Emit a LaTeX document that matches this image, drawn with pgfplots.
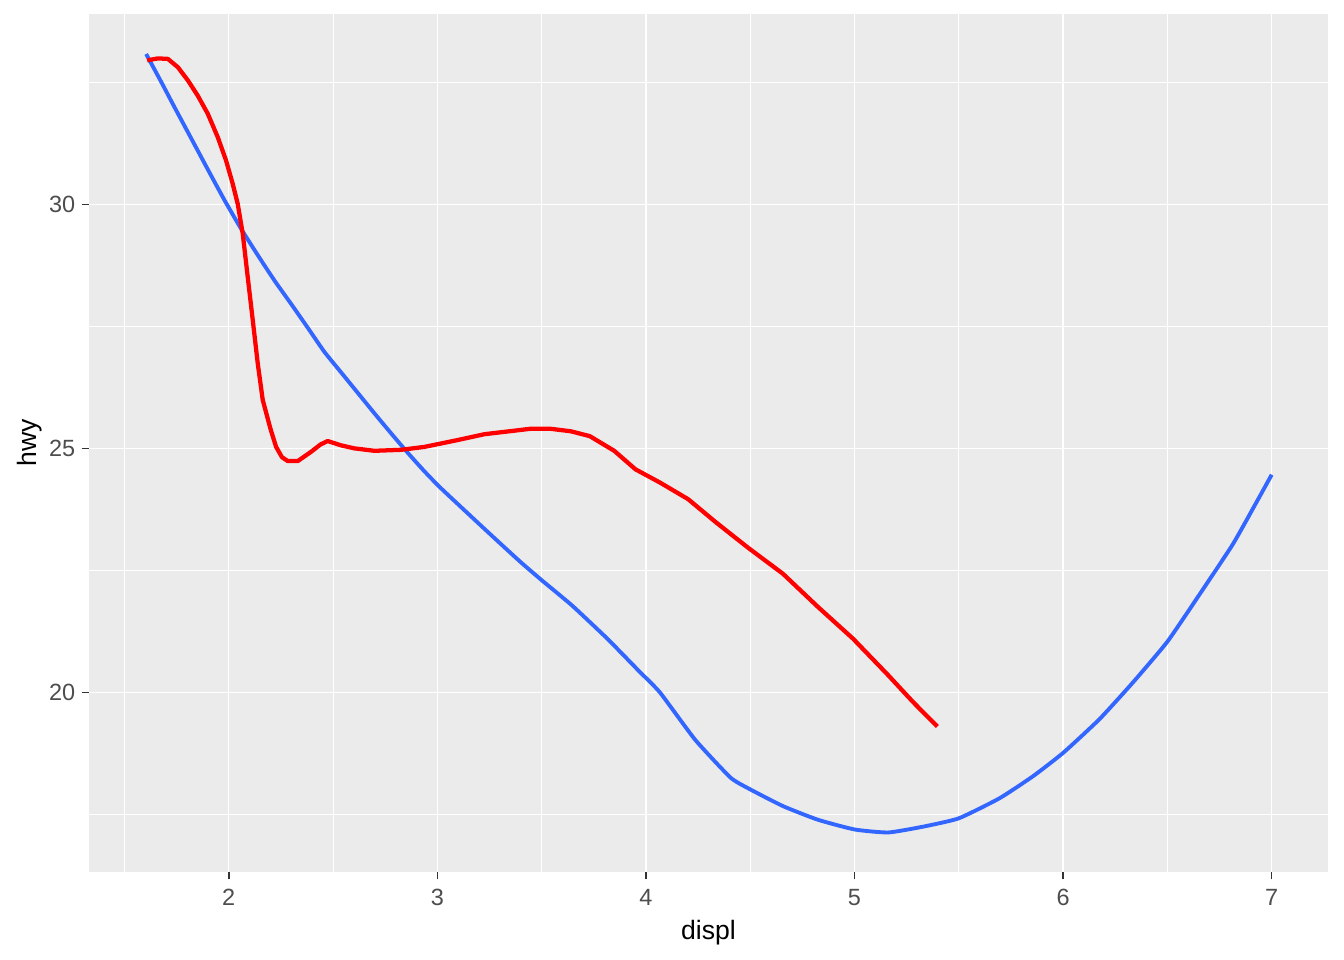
\documentclass[border=0pt]{standalone}
\usepackage{fontspec}
\setmainfont{Liberation Sans}
\usepackage{pgfplots}
\pgfplotsset{compat=1.18}
\definecolor{ggbg}{HTML}{EBEBEB}
\definecolor{ggblue}{HTML}{3366FF}
\definecolor{ggred}{HTML}{FF0000}
\definecolor{ticktext}{HTML}{4D4D4D}
\definecolor{tickcol}{HTML}{333333}
\begin{document}
\begin{tikzpicture}
\begin{axis}[
  scale only axis,
  width=464.625bp, height=321.75bp,
  xmin=1.33, xmax=7.27, ymin=16.32, ymax=33.90,
  axis background/.style={fill=ggbg},
  axis line style={draw=none},
  tick pos=left,
  tick align=outside,
  major tick length=2.75bp,
  minor tick length=0pt,
  every tick/.style={tickcol, line width=0.6bp},
  xtick={2,3,4,5,6,7},
  ytick={20,25,30},
  minor xtick={1.5,2.5,3.5,4.5,5.5,6.5},
  minor ytick={17.5,22.5,27.5,32.5},
  grid=both,
  major grid style={white, line width=0.55bp},
  minor grid style={white, line width=0.28bp},
  /pgf/number format/assume math mode=true,
  ticklabel style={font=\fontsize{8.8bp}{10bp}\selectfont, text=ticktext},
  yticklabel style={anchor=east, inner sep=0pt, xshift=-2.2bp},
  xticklabel style={anchor=north, inner sep=0pt, yshift=-3.6bp},
  label style={font=\fontsize{11bp}{13bp}\selectfont, text=black},
  every axis x label/.style={at={(axis description cs:0.5,-0.0781)}, anchor=base},
  every axis y label/.style={at={(axis description cs:-0.0476,0.5)}, rotate=90, anchor=center},
  xlabel={displ},
  ylabel={hwy},
  clip=false,
]
\coordinate (sw) at (rel axis cs:0,0);
\coordinate (ne) at (rel axis cs:1,1);
% blue smooth (loess overall)
\addplot[ggblue, line width=1.45bp, line join=round, smooth, tension=0.3] coordinates {
(1.604,33.08) (1.676,32.51) (1.740,31.99) (1.819,31.36) (1.899,30.72)
(1.979,30.09) (2.059,29.50) (2.139,28.96) (2.219,28.44) (2.299,27.96)
(2.379,27.47) (2.458,26.98) (2.538,26.56) (2.618,26.14) (2.698,25.72)
(2.778,25.31) (2.858,24.91) (2.938,24.53) (3.018,24.18) (3.226,23.35)
(3.394,22.69) (3.500,22.30) (3.646,21.78) (3.815,21.10) (3.966,20.44)
(4.067,20.00) (4.236,19.03) (4.404,18.26) (4.488,18.04) (4.657,17.67)
(4.825,17.39) (5.002,17.19) (5.162,17.13) (5.330,17.25) (5.500,17.42)
(5.695,17.83) (5.855,18.28) (6.000,18.76) (6.174,19.45) (6.334,20.20)
(6.500,21.04) (6.653,22.00) (6.813,23.03) (6.925,23.88) (7.000,24.46)
};
% red smooth (subset)
\addplot[ggred, line width=1.6bp, line join=round] coordinates {
(1.609,32.95) (1.660,32.99) (1.708,32.98) (1.756,32.81) (1.804,32.54)
(1.851,32.23) (1.899,31.86) (1.947,31.38) (1.987,30.90) (2.019,30.42)
(2.043,30.01) (2.067,29.40) (2.091,28.51) (2.115,27.63) (2.139,26.74)
(2.163,25.99) (2.180,25.72) (2.200,25.40) (2.227,25.03) (2.255,24.82)
(2.283,24.74) (2.331,24.74) (2.395,24.93) (2.440,25.08) (2.474,25.15)
(2.540,25.06) (2.602,25.00) (2.698,24.95) (2.826,24.97) (2.938,25.03)
(3.097,25.17) (3.226,25.29) (3.444,25.40) (3.545,25.40) (3.640,25.35)
(3.731,25.25) (3.848,24.95) (3.950,24.57) (4.067,24.30) (4.202,23.96)
(4.337,23.48) (4.488,22.97) (4.657,22.43) (4.825,21.75) (4.993,21.10)
(5.162,20.35) (5.279,19.81) (5.397,19.30)
};
\end{axis}
\pgfresetboundingbox
\useasboundingbox ([xshift=-33.375bp,yshift=-33bp]sw) rectangle ([xshift=6bp,yshift=5.25bp]ne);
\end{tikzpicture}
\end{document}
